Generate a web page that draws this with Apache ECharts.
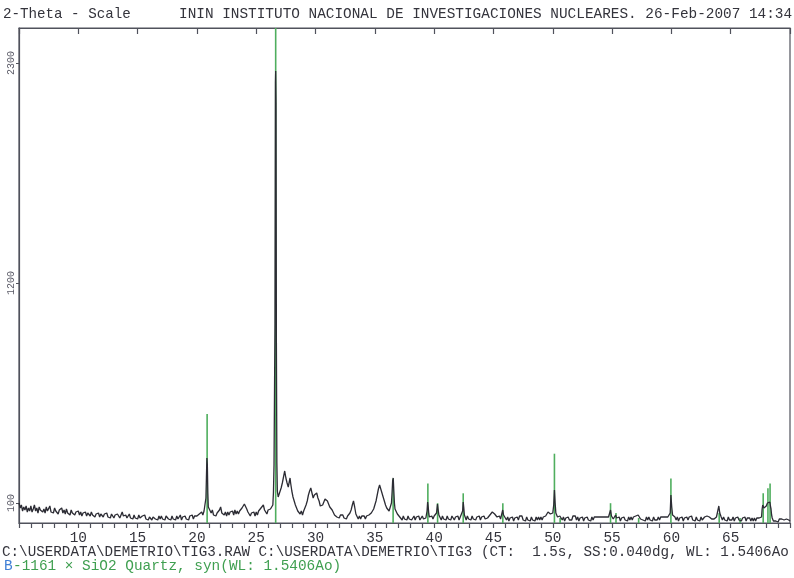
<!DOCTYPE html>
<html>
<head>
<meta charset="utf-8">
<title>TIG3 - 2-Theta Scale</title>
<script src="https://cdn.jsdelivr.net/npm/echarts@6/dist/echarts.min.js"></script>
<style>
  html, body { margin: 0; padding: 0; background: #ffffff; }
  #chart { width: 794px; height: 578px; }
</style>
</head>
<body>
<div id="chart"></div>
<script>
// Measured scan TIG3: [2-theta (deg), counts], step 0.1 deg (finer across sharp reflections)
const scanLow = [
  [5.0,100],[5.1,75],[5.2,90],[5.3,60],[5.4,80],[5.5,65],[5.6,85],[5.7,55],[5.8,75],[5.9,60],
  [6.0,85],[6.1,55],[6.2,70],[6.3,90],[6.4,60],[6.5,75],[6.6,50],[6.7,80],[6.8,65],[6.9,75],
  [7.0,55],[7.1,70],[7.2,50],[7.3,80],[7.4,60],[7.5,70],[7.6,85],[7.7,55],[7.8,65],[7.9,50],
  [8.0,75],[8.1,60],[8.2,70],[8.3,45],[8.4,65],[8.5,55],[8.6,75],[8.7,50],[8.8,65],[8.9,45],
  [9.0,70],[9.1,50],[9.2,60],[9.3,40],[9.4,65],[9.5,50],[9.6,60],[9.7,40],[9.8,55],[9.9,45],
  [10.0,60],[10.1,40],[10.2,55],[10.3,35],[10.4,50],[10.5,40],[10.6,55],[10.7,35],[10.8,50],[10.9,45],
  [11.0,35],[11.1,55],[11.2,40],[11.3,50],[11.4,30],[11.5,45],[11.6,35],[11.7,50],[11.8,30],[11.9,45],
  [12.0,40],[12.1,30],[12.2,45],[12.3,35],[12.4,50],[12.5,30],[12.6,40],[12.7,25],[12.8,45],[12.9,35],
  [13.0,25],[13.1,40],[13.2,30],[13.3,45],[13.4,35],[13.5,25],[13.6,40],[13.7,55],[13.8,35],[13.9,25],
  [14.0,40],[14.1,25],[14.2,35],[14.3,45],[14.4,25],[14.5,35],[14.6,20],[14.7,40],[14.8,25],[14.9,35],
  [15.0,20],[15.1,40],[15.2,25],[15.3,15],[15.4,35],[15.5,25],[15.6,40],[15.7,20],[15.8,30],[15.9,15],
  [16.0,30],[16.1,35],[16.2,15],[16.3,30],[16.4,40],[16.5,20],[16.6,30],[16.7,15],[16.8,35],[16.9,20],
  [17.0,35],[17.1,20],[17.2,30],[17.3,15],[17.4,35],[17.5,40],[17.6,20],[17.7,30],[17.8,15],[17.9,35],
  [18.0,20],[18.1,30],[18.2,15],[18.3,35],[18.4,20],[18.5,30],[18.6,40],[18.7,15],[18.8,30],[18.9,20],
  [19.0,35],[19.1,20],[19.2,30],[19.3,15],[19.4,35],[19.5,25],[19.6,40],[19.7,20],[19.8,35],[19.9,25]
];
const scanQuartz = [
  [20.0,35],[20.1,25],[20.2,45],[20.3,40],[20.4,55],[20.5,40],[20.6,60],[20.7,70],[20.76,125],[20.8,225],
  [20.84,325],[20.88,290],[20.92,150],[20.96,80],[21.0,70],[21.1,80],[21.2,50],[21.3,65],[21.4,40],[21.5,50],
  [21.6,35],[21.7,50],[21.8,40],[21.9,65],[22.0,80],[22.1,50],[22.2,60],[22.3,40],[22.4,55],[22.5,35],
  [22.6,55],[22.7,40],[22.8,55],[22.9,45],[23.0,60],[23.1,40],[23.2,65],[23.3,45],[23.4,60],[23.5,45],
  [23.6,60],[23.7,50],[23.8,75],[23.9,80],[24.0,95],[24.1,85],[24.2,70],[24.3,55],[24.4,45],[24.5,35],
  [24.6,50],[24.7,40],[24.8,55],[24.9,35],[25.0,55],[25.1,40],[25.2,60],[25.3,50],[25.4,75],[25.5,80],
  [25.6,90],[25.7,65],[25.8,55],[25.9,45],[26.0,65],[26.1,55],[26.2,70],[26.3,60],[26.4,90],[26.45,150],
  [26.5,290],[26.55,300],[26.58,1000],[26.62,2200],[26.64,2260],[26.67,2100],[26.7,900],[26.74,300],[26.78,160],[26.85,130],
  [26.9,120],[27.0,140],[27.1,175],[27.2,200],[27.3,230],[27.4,260],[27.45,250],[27.5,225],[27.6,200],[27.7,180],
  [27.8,210],[27.85,225],[27.9,200],[28.0,160],[28.1,130],[28.2,110],[28.3,90],[28.4,75],[28.5,60],[28.6,70],
  [28.7,45],[28.8,60],[28.9,40],[29.0,60],[29.1,70],[29.2,90],[29.3,110],[29.4,140],[29.5,160],[29.6,175],
  [29.7,150],[29.8,125],[29.9,140],[30.0,130],[30.1,150],[30.2,125],[30.3,110],[30.4,85],[30.5,75],[30.6,90],
  [30.7,100],[30.8,120],[30.9,130],[31.0,110],[31.1,100],[31.2,80],[31.3,90],[31.4,65]
];
const scanMid = [
  [31.5,55],[31.6,40],[31.7,45],[31.8,30],[31.9,40],[32.0,25],[32.1,40],[32.2,30],[32.3,40],[32.4,25],
  [32.5,35],[32.6,20],[32.7,35],[32.8,40],[32.9,50],[33.0,65],[33.1,90],[33.2,110],[33.3,80],[33.4,45],
  [33.5,35],[33.6,20],[33.7,35],[33.8,20],[33.9,35],[34.0,25],[34.1,35],[34.2,20],[34.3,35],[34.4,30],
  [34.5,40],[34.6,35],[34.7,50],[34.8,60],[34.9,70],[35.0,90],[35.1,110],[35.2,140],[35.3,170],[35.4,190],
  [35.5,180],[35.6,150],[35.7,130],[35.8,110],[35.9,90],[36.0,75],[36.1,65],[36.2,60],[36.3,70],[36.4,100],
  [36.45,150],[36.5,210],[36.55,225],[36.6,160],[36.65,100],[36.7,70],[36.8,60],[36.9,45],[37.0,50],[37.1,30],
  [37.2,30],[37.3,15],[37.4,35],[37.5,20],[37.6,30],[37.7,15],[37.8,35],[37.9,20],[38.0,30],[38.1,15],
  [38.2,25],[38.3,35],[38.4,15],[38.5,30],[38.6,20],[38.7,35],[38.8,15],[38.9,25],[39.0,35],[39.1,20],
  [39.2,30],[39.3,25],[39.4,60],[39.45,105],[39.5,80],[39.55,45],[39.6,30],[39.7,20],[39.8,35],[39.9,20],
  [40.0,35],[40.1,25],[40.2,50],[40.28,95],[40.33,70],[40.4,40],[40.5,30],[40.6,15],[40.7,35],[40.8,20],
  [40.9,30],[41.0,15],[41.1,35],[41.2,20],[41.3,30],[41.4,15],[41.5,35],[41.6,25],[41.7,15],[41.8,30],
  [41.9,20],[42.0,35],[42.1,15],[42.2,30],[42.3,25],[42.4,60],[42.45,105],[42.5,75],[42.55,40],[42.6,30],
  [42.7,15],[42.8,35],[42.9,20],[43.0,30],[43.1,15],[43.2,35],[43.3,20],[43.4,30],[43.5,15],[43.6,30],
  [43.7,20],[43.8,35],[43.9,15],[44.0,30],[44.1,20],[44.2,35],[44.3,20],[44.4,30],[44.5,25],[44.6,35],
  [44.7,40],[44.8,50],[44.9,55],[45.0,50]
];
const scanHigh = [
  [45.1,45],[45.2,35],[45.3,30],[45.4,20],[45.5,35],[45.6,20],[45.7,30],[45.78,65],[45.85,40],[45.9,30],
  [46.0,30],[46.1,15],[46.2,30],[46.3,10],[46.4,25],[46.5,15],[46.6,30],[46.7,10],[46.8,25],[46.9,15],
  [47.0,30],[47.1,15],[47.2,35],[47.3,25],[47.4,35],[47.5,15],[47.6,25],[47.7,10],[47.8,30],[47.9,15],
  [48.0,25],[48.1,10],[48.2,30],[48.3,15],[48.4,25],[48.5,10],[48.6,30],[48.7,15],[48.8,30],[48.9,15],
  [49.0,30],[49.1,15],[49.2,30],[49.3,20],[49.4,35],[49.5,45],[49.6,55],[49.7,50],[49.8,45],[49.9,40],
  [50.0,50],[50.08,90],[50.14,165],[50.2,100],[50.26,50],[50.3,40],[50.4,30],[50.5,25],[50.6,35],[50.7,30],
  [50.8,15],[50.9,30],[51.0,10],[51.1,25],[51.2,15],[51.3,30],[51.4,15],[51.5,25],[51.6,15],[51.7,35],
  [51.8,25],[51.9,35],[52.0,15],[52.1,30],[52.2,10],[52.3,25],[52.4,15],[52.5,30],[52.6,10],[52.7,25],
  [52.8,15],[52.9,30],[53.0,15],[53.1,25],[53.2,10],[53.3,30],[53.4,15],[53.5,30],[53.6,20],[53.7,30],
  [53.8,25],[53.9,30],[54.0,35],[54.1,30],[54.2,40],[54.3,30],[54.4,25],[54.5,30],[54.6,25],[54.7,30],
  [54.8,40],[54.87,65],[54.95,35],[55.0,25],[55.1,20],[55.2,25],[55.3,40],[55.38,25],[55.5,15],[55.6,30],
  [55.7,10],[55.8,25],[55.9,15],[56.0,30],[56.1,15],[56.2,25],[56.3,10],[56.4,30],[56.5,15],[56.6,30],
  [56.7,15],[56.8,30],[56.9,20],[57.0,35],[57.1,30],[57.2,40],[57.3,30],[57.4,20],[57.5,30],[57.6,15],
  [57.7,25],[57.8,10],[57.9,30],[58.0,15]
];
const scanTail = [
  [58.1,30],[58.2,15],[58.3,25],[58.4,10],[58.5,30],[58.6,15],[58.7,25],[58.8,15],[58.9,30],[59.0,15],
  [59.1,30],[59.2,20],[59.3,30],[59.4,25],[59.5,30],[59.6,25],[59.7,30],[59.8,35],[59.9,50],[59.96,140],
  [60.03,80],[60.1,40],[60.2,30],[60.3,30],[60.4,15],[60.5,30],[60.6,10],[60.7,25],[60.8,15],[60.9,30],
  [61.0,10],[61.1,25],[61.2,15],[61.3,30],[61.4,15],[61.5,30],[61.6,20],[61.7,35],[61.8,15],[61.9,25],
  [62.0,10],[62.1,30],[62.2,15],[62.3,25],[62.4,10],[62.5,30],[62.6,15],[62.7,25],[62.8,30],[62.9,25],
  [63.0,35],[63.1,40],[63.2,30],[63.3,25],[63.4,20],[63.5,25],[63.6,20],[63.7,25],[63.8,30],[63.9,40],
  [64.0,85],[64.08,50],[64.2,30],[64.3,15],[64.4,30],[64.5,15],[64.6,25],[64.7,10],[64.8,30],[64.9,15],
  [65.0,25],[65.1,15],[65.2,30],[65.3,10],[65.4,25],[65.5,15],[65.6,30],[65.7,15],[65.8,25],[65.9,10],
  [66.0,25],[66.1,15],[66.2,30],[66.3,10],[66.4,25],[66.5,15],[66.6,25],[66.7,10],[66.8,25],[66.9,10],
  [67.0,25],[67.1,10],[67.2,25],[67.3,15],[67.4,25],[67.5,20],[67.6,30],[67.65,70],[67.7,90],[67.75,100],
  [67.8,75],[67.85,80],[67.9,80],[67.95,75],[68.0,85],[68.05,90],[68.1,100],[68.15,110],[68.2,90],[68.25,95],
  [68.3,105],[68.35,85],[68.4,70],[68.45,40],[68.5,25],[68.6,10],[68.7,20],[68.8,10],[68.9,20],[69.0,5],
  [69.1,20],[69.2,10],[69.3,20],[69.4,10],[69.5,15],[69.6,5],[69.7,20],[69.8,10],[69.9,15],[70.0,10]
];

// Reference pattern 33-1161 SiO2 Quartz, syn: line positions (2-theta) and relative intensity (%)
const quartzAngles    = [20.86, 26.64, 36.54, 39.47, 40.29, 42.45, 45.79, 50.14, 50.62, 54.87, 55.33, 57.24, 59.96, 64.03, 65.79, 67.74, 68.14, 68.32];
const quartzIntensity = [22,    100,   9,     8,     4,     6,     4,     14,    1,     4,     2,     1,     9,     2,     1,     6,     7,     8];

// Axis range and labelled count values
const twoThetaRange = [5, 70];
const countsMax = 2475;
const countLabels = [100, 1200, 2300];

// Header / footer texts
const headerLeft  = '2-Theta - Scale';
const headerRight = 'ININ INSTITUTO NACIONAL DE INVESTIGACIONES NUCLEARES. 26-Feb-2007 14:34';
const footerScan  = 'C:\\USERDATA\\DEMETRIO\\TIG3.RAW C:\\USERDATA\\DEMETRIO\\TIG3 (CT:  1.5s, SS:0.040dg, WL: 1.5406Ao';
const footerCardTag = 'B';
const footerCard  = '-1161 \u00d7 SiO2 Quartz, syn(WL: 1.5406Ao)';

const scan = [].concat(scanLow, scanQuartz, scanMid, scanHigh, scanTail);
const sticks = quartzAngles.map((a, i) => [a, quartzIntensity[i]]);

const FONT = '"Liberation Mono", "DejaVu Sans Mono", monospace';
const INK = '#34343c';
const FRAME = '#50525c';
const GREEN = '#4fae5e';

function textEl(x, y, text, fill, size) {
  return {
    type: 'text', x: x, y: y,
    style: { text: text, fontFamily: FONT, fontSize: size, fill: fill, verticalAlign: 'middle' }
  };
}

const chart = echarts.init(document.getElementById('chart'), null, { renderer: 'canvas' });

chart.setOption({
  animation: false,
  backgroundColor: '#ffffff',
  grid: {
    left: 19, right: 4, top: 28, bottom: 55,
    show: true, borderColor: FRAME, borderWidth: 1.2, backgroundColor: 'transparent'
  },
  xAxis: [
    {
      type: 'value', min: twoThetaRange[0], max: twoThetaRange[1], interval: 5,
      position: 'bottom',
      axisLine: { show: true, onZero: false, lineStyle: { color: FRAME, width: 1.2 } },
      axisTick: { show: true, inside: false, length: 5, lineStyle: { color: FRAME, width: 1.2 } },
      minorTick: { show: true, splitNumber: 5, length: 5, lineStyle: { color: FRAME, width: 1.2 } },
      splitLine: { show: false },
      axisLabel: {
        show: true, showMinLabel: false, showMaxLabel: false, margin: 8,
        fontFamily: FONT, fontSize: 14.4, color: INK
      }
    },
    {
      type: 'value', min: twoThetaRange[0], max: twoThetaRange[1], interval: 5,
      position: 'top',
      axisLine: { show: true, onZero: false, lineStyle: { color: FRAME, width: 1.2 } },
      axisTick: { show: true, inside: true, length: 6, lineStyle: { color: FRAME, width: 1.2 } },
      axisLabel: { show: false },
      splitLine: { show: false }
    }
  ],
  yAxis: [
    {
      type: 'value', min: 0, max: countsMax,
      axisLine: { show: true, onZero: false, lineStyle: { color: FRAME, width: 1.2 } },
      axisTick: { show: true, length: 3, customValues: countLabels, lineStyle: { color: FRAME } },
      splitLine: { show: false },
      axisLabel: {
        show: true, customValues: countLabels, rotate: 90, margin: 3,
        formatter: function (v) { return String(v); },
        fontFamily: FONT, fontSize: 10, color: '#5a5a66'
      }
    },
    {
      type: 'value', min: 0, max: 100, show: false
    }
  ],
  series: [
    {
      name: '33-1161 SiO2 Quartz, syn',
      type: 'custom',
      xAxisIndex: 1, yAxisIndex: 1,
      z: 2,
      clip: true,
      data: sticks,
      renderItem: function (params, api) {
        const a = api.value(0), inten = api.value(1);
        const p0 = api.coord([a, 0]);
        const p1 = api.coord([a, inten]);
        return {
          type: 'line',
          shape: { x1: p0[0], y1: p0[1], x2: p1[0], y2: p1[1] },
          style: { stroke: GREEN, lineWidth: 1.6 }
        };
      }
    },
    {
      name: 'TIG3',
      type: 'line',
      xAxisIndex: 0, yAxisIndex: 0,
      z: 3,
      data: scan,
      showSymbol: false,
      symbol: 'none',
      lineStyle: { color: '#2c2c34', width: 1.3 },
      clip: true
    }
  ],
  graphic: [
    textEl(3, 14, headerLeft, INK, 14.2),
    textEl(179, 14, headerRight, INK, 14.4),
    textEl(2, 552, footerScan, INK, 14.25),
    textEl(4, 566, footerCardTag, '#3f7fd6', 14.4),
    textEl(13, 566, footerCard, '#3f9f50', 14.4)
  ]
});
</script>
</body>
</html>
